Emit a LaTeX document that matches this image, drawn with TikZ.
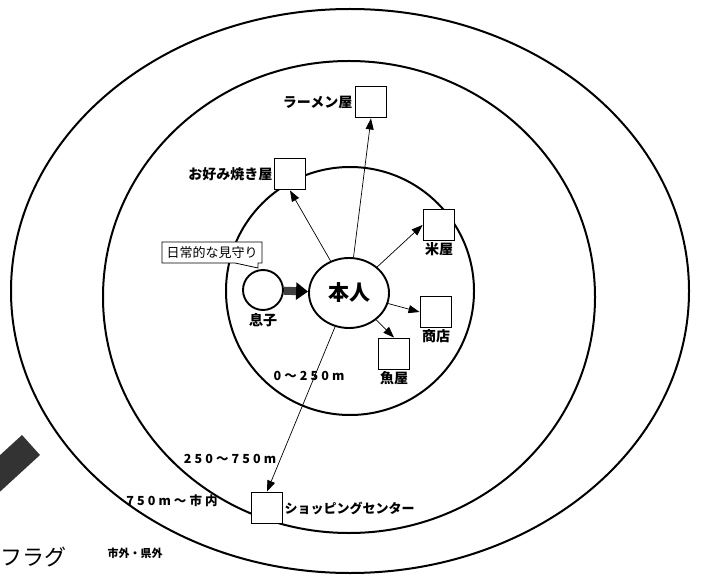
\documentclass[tikz,border=0pt]{standalone}
\usepackage{fontspec}
\setmainfont{Noto Sans CJK JP}
\newfontfamily\spaced[LetterSpace=25]{Noto Sans CJK JP}
\usetikzlibrary{arrows.meta}
\usetikzlibrary{shapes.geometric}
\usetikzlibrary{positioning}

\tikzset{
  ring/.style={line width=2pt},
  shopbox/.style={draw,line width=1.9pt,fill=white,minimum size=31pt,inner sep=0pt},
  shoplabel/.style={font=\bfseries\fontsize{14}{14}\selectfont,inner sep=1pt},
  distlabel/.style={font=\spaced\bfseries\fontsize{12.5}{12.5}\selectfont,inner sep=0pt},
  visit/.style={-{Triangle[length=11pt,width=8pt]},line width=0.7pt},
}

\begin{document}
\begin{tikzpicture}[x=1pt,y=-1pt]
      \useasboundingbox (0,0) rectangle (701,577);
      %% rings
      \draw[ring] (350,291) ellipse [x radius=339pt, y radius=282pt];
      \draw[ring] (349,297) ellipse [x radius=246pt, y radius=236pt];
      \draw[ring] (350,291) circle [radius=124pt];
      %% bar and flag at the edge
      \fill[black!80] (22,435) -- (40,455) -- (-20,510) -- (-38,490) -- cycle;
      \node[font=\fontsize{22}{22}\selectfont,anchor=west,inner sep=0pt] (flag) at (0,557) {フラグ};
      %%
      \node[ellipse,draw,line width=1.9pt,fill=white,minimum width=80pt,minimum height=70pt,
            font=\bfseries\fontsize{21}{21}\selectfont] (honin) at (349,293) {本人};
      \node[circle,draw,line width=1.9pt,minimum size=40pt,inner sep=0pt] (son) at (263,290) {};
      \node[shoplabel,below=1pt of son] (sonL) {息子};
      \node[shopbox] (ramen) at (371,102) {};
      \node[shoplabel,left=1pt of ramen] (ramenL) {ラーメン屋};
      \node[shopbox] (okonomi) at (290,174) {};
      \node[shoplabel,left=0pt of okonomi] (okonomiL) {お好み焼き屋};
      \node[shopbox] (rice) at (439,225) {};
      \node[shoplabel,below=0pt of rice] (riceL) {米屋};
      \node[shopbox] (store) at (436,312) {};
      \node[shoplabel,below=0pt of store] (storeL) {商店};
      \node[shopbox] (fish) at (394,354) {};
      \node[shoplabel,below=0pt of fish] (fishL) {魚屋};
      \node[shopbox] (mall) at (267,508) {};
      \node[shoplabel,font=\bfseries\fontsize{13}{13}\selectfont,right=0pt of mall] (mallL) {ショッピングセンター};
      %% callout
      \draw[line width=0.8pt,fill=white] (162,242) -- (262,242) -- (262,263) -- (258,263)
            -- (258,268) -- (235,263) -- (162,263) -- cycle;
      \node[font=\fontsize{13}{13}\selectfont,inner sep=0pt] (watch) at (212,252.5) {日常的な見守り};
      %% arrows
      \draw[line width=8pt,black!75,-{Triangle[length=12pt,width=17pt,black]}] (son) -- (honin);
      \draw[visit] (honin) -- (ramen.south);
      \draw[visit] (honin) -- (okonomi.south);
      \draw[visit] (honin) -- (rice.west);
      \draw[visit] (honin) -- (store.west);
      \draw[visit] (honin) -- (fish.north);
      \draw[visit] (honin) -- (mall.north);
      %% distances
      \node[distlabel] (near) at (309,376) {0～250m};
      \node[distlabel] (mid) at (230,459) {250～750m};
      \node[distlabel] (far) at (172,501) {750m～市内};
      \node[font=\bfseries\fontsize{11}{11}\selectfont,inner sep=0pt] (out) at (135,553) {市外・県外};
\end{tikzpicture}
\end{document}
